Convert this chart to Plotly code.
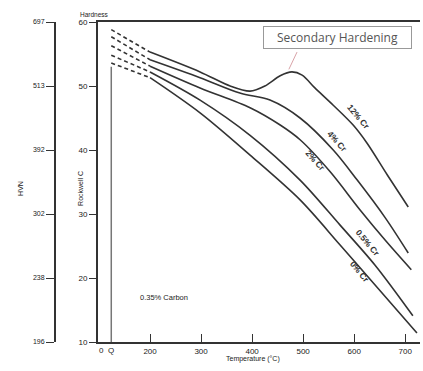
import plotly.graph_objects as go

# ---- data (tempering temperature °C, Rockwell C hardness) ----
series_names = ["12% Cr", "4% Cr", "2% Cr", "0.5% Cr", "0% Cr"]

# dashed part (as-quenched Q -> 200 °C)
dash_T = [124, 200]
dash_12 = [58.8, 55.3]
dash_4 = [57.7, 54.1]
dash_2 = [56.3, 53.1]
dash_05 = [54.8, 52.2]
dash_0 = [53.6, 51.3]

# solid part
T_12 = [200, 298, 357, 396, 425, 455, 478, 498, 523, 559, 598, 625, 665, 706]
H_12 = [55.3, 52.2, 50.0, 49.2, 50.0, 51.6, 52.2, 51.7, 49.7, 47.0, 43.9, 41.1, 36.1, 31.1]
T_4 = [200, 298, 376, 435, 494, 559, 606, 661, 706]
H_4 = [54.1, 51.3, 48.9, 47.8, 45.0, 40.0, 35.3, 29.4, 23.9]
T_2 = [200, 298, 396, 455, 494, 553, 612, 661, 712]
H_2 = [53.1, 49.7, 46.6, 43.9, 41.6, 36.6, 30.6, 25.9, 21.3]
T_05 = [200, 298, 396, 494, 572, 641, 715]
H_05 = [52.2, 47.8, 42.3, 35.3, 28.3, 22.0, 14.1]
T_0 = [200, 298, 396, 494, 572, 641, 723]
H_0 = [51.3, 45.8, 39.2, 32.2, 25.2, 18.9, 11.4]

hrc_ticks = [10, 20, 30, 40, 50, 60]
hvn_labels = ["196", "238", "302", "392", "513", "697"]
temp_ticks = [200, 300, 400, 500, 600, 700]
quench_T = 124

LINE = "#333333"
FONT = "Liberation Sans"

fig = go.Figure()

dashed = [dash_12, dash_4, dash_2, dash_05, dash_0]
solid = [(T_12, H_12), (T_4, H_4), (T_2, H_2), (T_05, H_05), (T_0, H_0)]
for name, d, (t, h) in zip(series_names, dashed, solid):
    fig.add_trace(go.Scatter(x=dash_T, y=d, mode="lines",
                             line=dict(color=LINE, width=1.6, dash="4px,3px"),
                             showlegend=False, hoverinfo="skip"))
    fig.add_trace(go.Scatter(x=t, y=h, mode="lines", name=name,
                             line=dict(color=LINE, width=1.6, shape="spline", smoothing=0.9),
                             showlegend=False))

# quench marker line
fig.add_trace(go.Scatter(x=[quench_T, quench_T], y=[53.0, 10], mode="lines",
                         line=dict(color="#777777", width=1.5),
                         showlegend=False, hoverinfo="skip"))

# secondary HVN axis trace (invisible) to activate yaxis2
fig.add_trace(go.Scatter(x=[None], y=[None], yaxis="y2", showlegend=False))

annotations = []
# curve labels
label_pos = [(609, 45.2, 50), (568, 41.3, 48), (525, 38.3, 48), (627, 25.5, 50), (611, 20.9, 50)]
for name, (lx, ly, ang) in zip(series_names, label_pos):
    annotations.append(dict(x=lx, y=ly, text="<b>" + name + "</b>", showarrow=False, textangle=ang,
                            font=dict(family=FONT, size=8.5, color="#333")))

annotations += [
    dict(x=227, y=17, text="0.35% Carbon", showarrow=False,
         font=dict(family=FONT, size=7.5, color="#222")),
    dict(x=567, y=57.6, text="Secondary Hardening", showarrow=False,
         font=dict(family="Open Sans", size=12, color="#555"), width=145, height=19,
         bordercolor="#999", borderwidth=1, bgcolor="white", borderpad=1),
    dict(x=104, y=0, yref="paper", text="0", showarrow=False, yanchor="top", yshift=-2,
         font=dict(family=FONT, size=8, color="#222")),
    dict(x=quench_T, y=0, yref="paper", text="Q", showarrow=False, yanchor="top", yshift=-2,
         font=dict(family=FONT, size=8, color="#222")),
    dict(x=253 / 420, y=-20 / 320 - 0.01, xref="paper", yref="paper", text="Temperature (°C)",
         showarrow=False, font=dict(family=FONT, size=7, color="#222")),
    dict(x=78 / 420, y=1 + 13 / 320, xref="paper", yref="paper", text="Hardness",
         showarrow=False, font=dict(family=FONT, size=6.5, color="#222")),
    dict(x=75 / 420, y=0.48, xref="paper", yref="paper", text="Rockwell C", textangle=-90,
         showarrow=False, font=dict(family=FONT, size=7, color="#222")),
    dict(x=15 / 420, y=0.48, xref="paper", yref="paper", text="HVN", textangle=-90,
         showarrow=False, font=dict(family=FONT, size=7, color="#222")),
]

shapes = [
    dict(type="line", x0=488, y0=55.3, x1=472, y1=52.6, line=dict(color="#d9a3a8", width=1)),
]

fig.update_layout(
    width=423, height=371,
    margin=dict(l=0, r=3, t=22, b=29, autoexpand=False),
    paper_bgcolor="white", plot_bgcolor="white",
    showlegend=False,
    xaxis=dict(domain=[98 / 420, 1], range=[98, 729], tickvals=temp_ticks,
               ticktext=[str(v) for v in temp_ticks], ticks="inside", ticklen=8,
               tickcolor=LINE, showline=True, linecolor=LINE, linewidth=2, mirror=True,
               showgrid=False, zeroline=False, automargin=False,
               tickfont=dict(family=FONT, size=8, color="#222")),
    yaxis=dict(range=[10, 60], tickvals=hrc_ticks, ticks="outside", ticklen=7,
               tickcolor=LINE, showline=True, linecolor=LINE, linewidth=2,
               showgrid=False, zeroline=False, automargin=False,
               tickfont=dict(family=FONT, size=8, color="#222")),
    yaxis2=dict(range=[10, 60], tickvals=hrc_ticks, ticktext=hvn_labels, overlaying="y",
                anchor="free", position=55 / 420, side="left", ticks="outside", ticklen=8,
                tickcolor=LINE, showline=True, linecolor=LINE, linewidth=2,
                showgrid=False, zeroline=False, automargin=False,
                tickfont=dict(family=FONT, size=7, color="#222")),
    annotations=annotations,
    shapes=shapes,
)

fig.write_html("out.html", config={"displayModeBar": False},
               post_script="document.body.style.margin='0';document.body.style.overflow='hidden';")
